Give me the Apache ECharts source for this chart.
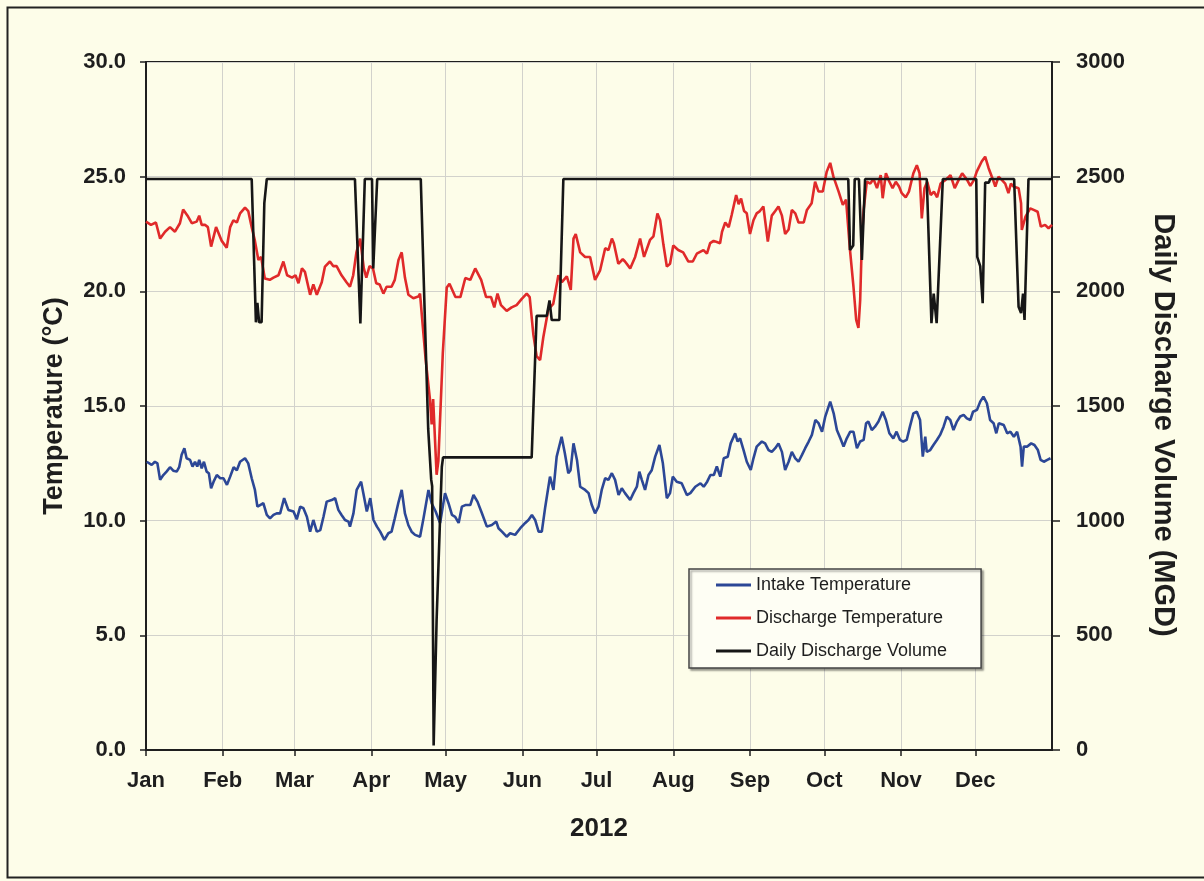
<!DOCTYPE html>
<html>
<head>
<meta charset="utf-8">
<script src="https://cdn.jsdelivr.net/npm/echarts@6/dist/echarts.min.js"></script>
<style>
html,body{margin:0;padding:0;background:#fdfde9;}
#chart{width:1204px;height:881px;}
</style>
</head>
<body>
<div id="chart"></div>
<script>
// Day offsets from 1 Jan 2012 and values
const monthLabels = ['Jan','Feb','Mar','Apr','May','Jun','Jul','Aug','Sep','Oct','Nov','Dec'];

const intakeDay = [0.3,2.3,3.6,4.6,5.7,7,8.3,9.7,11,12.4,13.4,14.4,15.5,16.4,17.8,18.8,19.8,20.7,21.5,22.5,23.4,24.5,25.4,26.3,27.3,28.6,30,31.3,32.7,34,35.4,36.7,38,40,41.3,42.7,44,45,46.1,47.4,48.8,50.1,51.5,52.8,54.2,55.8,57.5,59.6,60.9,62.3,63.6,65,66.3,67.6,69,70.4,71.7,73,75,76.4,77.7,79,80.4,81.8,82.4,83.8,85.1,86.9,87.8,89.2,90.6,91.9,93.3,94.6,96.3,97.9,99.2,100.5,101.9,103.3,104.6,106,107.3,108.7,110.7,112.1,114.1,115.4,117,118.8,120.8,122.2,123.6,124.9,126.3,127.6,129,131,132.3,133.9,135.7,137.7,139.7,141.5,142.4,143.8,145.7,147.1,149.1,151.2,153.2,154.5,155.9,157.2,158.6,159.9,161.3,163.2,164.6,165.9,167.9,169.2,170.6,171.5,172.7,174.1,175.4,177.4,178.8,180.1,181.4,182.8,184.1,185.5,186.8,188.2,189.5,190.9,192.2,193.5,195.6,196.9,198.3,199.3,200.3,201.6,203,204.3,205.7,207.4,208.8,210.4,211.7,212.8,214.4,216.4,218.5,219.9,221.9,224,225.3,226.7,228,229.4,230.6,232,233.4,235,236.2,238,239,240,241.4,242.7,244.3,245.4,246.7,248.8,250.1,251.5,252.8,254.2,255.5,256.9,258.2,259.6,260.9,262.3,263.6,265,266.3,267.7,269,270.4,271.7,273.1,274.4,276.4,277.8,279.1,280.5,281.8,283.1,284.5,285.8,287.2,288.5,289.9,290.9,291.8,293.2,294.5,295.9,297.6,298.9,300.3,301.9,303.2,304.6,305.9,307.3,308.6,310,311.4,312.7,313.8,314.8,315.4,316.8,318.1,319.5,320.8,322.2,323.5,324.9,326.2,327.6,328.9,330.3,331.6,333,334.1,335.7,337,338.3,339.7,341,342.4,343.5,344.5,346.5,347.9,349.2,350.6,351.9,353.3,353.9,354.6,356,357.6,358.9,360.3,361.4,362.7,364.1,365.4];
const intakeTemp = [12.57,12.43,12.57,12.5,11.78,11.99,12.14,12.33,12.18,12.14,12.33,12.87,13.16,12.72,12.65,12.36,12.57,12.36,12.65,12.28,12.57,12.14,12.07,11.41,11.7,11.99,11.85,11.85,11.56,11.92,12.33,12.2,12.57,12.72,12.5,11.85,11.34,10.61,10.68,10.76,10.25,10.1,10.25,10.32,10.32,10.98,10.47,10.4,10.06,10.61,10.54,10.17,9.52,10.03,9.52,9.59,10.17,10.83,10.9,10.98,10.47,10.25,10.03,9.96,9.74,10.32,11.34,11.7,11.2,10.4,10.98,10.03,9.74,9.52,9.16,9.45,9.52,10.1,10.76,11.34,10.32,9.8,9.52,9.38,9.3,10.1,11.34,10.76,10.4,9.9,11.2,10.76,10.25,10.17,9.9,10.61,10.68,10.68,11.12,10.83,10.32,9.74,9.81,9.96,9.67,9.52,9.3,9.45,9.38,9.67,9.9,10.03,10.25,10.03,9.52,9.52,10.61,11.92,11.34,12.79,13.66,12.94,12.07,12.2,13.37,12.65,11.48,11.34,11.2,10.68,10.32,10.61,11.34,11.85,11.78,12.07,11.78,11.12,11.41,11.2,10.9,11.2,11.48,12.14,11.78,11.34,11.99,12.2,12.79,13.3,12.5,10.98,11.2,11.92,11.7,11.63,11.12,11.2,11.48,11.63,11.48,11.7,11.99,11.99,12.36,11.92,12.72,12.79,13.37,13.81,13.45,13.59,13.08,12.57,12.21,12.72,13.23,13.45,13.37,13.08,13.0,13.16,13.37,13.0,12.21,12.57,13.0,12.72,12.57,12.87,13.16,13.45,13.74,14.39,14.25,13.88,14.54,15.19,14.68,13.95,13.59,13.23,13.59,13.88,13.88,13.16,13.45,13.52,14.25,14.32,13.95,14.1,14.32,14.75,14.39,13.81,13.59,13.88,13.52,13.45,13.52,14.1,14.68,14.75,14.39,12.79,13.66,13.0,13.08,13.3,13.52,13.74,14.1,14.54,14.39,13.95,14.32,14.54,14.61,14.46,14.39,14.75,14.83,15.19,15.41,15.12,14.39,14.25,13.81,14.25,14.17,13.81,13.88,13.66,13.88,13.23,12.36,13.23,13.23,13.37,13.3,13.08,12.65,12.57,12.65,12.72];

const dischargeDay = [0,2,4,5.7,7.7,9.7,11.7,13.7,15,17,18.5,20.5,21.5,22.5,23.8,25,26.3,28.3,30.6,32.6,34,35.3,36.7,38,40,41.3,42.7,44,45.4,46.5,48,50,51.5,53.5,55.5,57,59,60.4,61.6,63,64.2,66.3,67.6,69,71,72.3,74.3,75.6,77,79,81,82.4,83.7,85,86.5,88,89,90.3,91.7,93,94.4,95.9,97.2,99.2,100.5,102,103.3,104.6,106,108,110,110.7,111.4,113,114.7,115.4,116,117.4,118.1,119.9,121.5,122.6,125,127,129,131,133,135.4,137.4,139.4,140.7,142,143.4,145.7,147.7,149.7,151.8,153.8,155,156.5,157.8,159.2,160.5,162.5,164.5,166.6,168,170,171.6,172.7,173.6,175.4,177.4,179.4,181.4,183.4,185.5,186.8,188.2,189,190.8,192.6,193.5,195.6,197.6,199.6,201.2,203.6,205,206.6,207.7,209,210.4,211.7,213,215,217,219.1,220.9,222.5,225.2,226.6,227.9,229.3,230.6,231.9,232.7,234,235.4,236.6,238.4,239.4,240.4,241.6,242.7,244,245.4,246.7,248,249.4,251.2,252.8,254.2,255.5,256.9,258.2,259.6,260.9,262.3,263.6,265.7,267,268.9,270.3,271.7,273.4,275,276.4,277.7,279.8,281.5,282.8,284.4,285.8,286.9,287.8,288.5,289.2,289.9,291.2,292.6,293.9,295.3,296.8,297.6,298.9,300.2,301.6,302.9,304.2,305.3,306.9,308.2,310,311.4,312.5,313.4,314.5,315.6,317,318.3,319.6,321,323,325,326.7,328.3,329.7,331.7,333,334.5,335.6,337.6,339,340.4,341.7,343.1,344.4,345.7,347.1,348.4,349.4,350.4,352.5,353.5,353.8,355.3,357.2,358.6,360.2,361.5,363.2,364.6,366];
const dischargeTemp = [23.04,22.9,23.0,22.3,22.6,22.8,22.6,22.97,23.57,23.26,22.97,23.04,23.3,22.9,22.9,22.8,21.95,22.8,22.2,21.9,22.8,23.1,23.0,23.4,23.65,23.5,22.8,22.2,21.37,21.5,20.56,20.5,20.6,20.7,21.3,20.7,20.6,20.7,20.35,21.0,20.85,19.85,20.3,19.85,20.4,21.08,21.3,21.1,21.1,20.7,20.4,20.2,20.7,21.7,22.3,21.0,20.6,21.1,21.0,20.35,20.3,19.9,20.2,20.2,20.5,21.37,21.7,20.6,19.85,19.7,19.77,19.9,19.0,17.0,15.3,14.2,15.3,12.0,12.6,17.3,20.17,20.33,19.75,19.75,20.58,20.5,21.0,20.5,19.75,19.75,19.3,19.9,19.4,19.15,19.3,19.4,19.67,19.9,19.75,18.1,17.17,17.0,18.0,19.2,19.45,20.7,20.4,20.65,20.06,22.3,22.5,21.7,21.5,21.5,20.5,20.9,21.88,21.8,22.3,22.1,21.2,21.4,21.3,21.0,21.5,22.3,21.5,22.24,22.4,23.4,23.1,22.05,21.08,21.2,22.0,21.8,21.7,21.3,21.3,21.64,21.8,21.64,22.1,22.2,22.15,22.1,22.6,23.0,22.8,23.33,24.2,23.8,24.05,23.5,23.4,22.5,23.1,23.4,23.5,23.7,22.17,23.3,23.5,23.7,23.3,22.5,22.7,23.55,23.4,23.0,23.0,23.55,23.84,24.78,24.35,24.35,25.22,25.6,25.0,24.35,23.77,24.0,21.8,20.2,18.75,18.4,19.6,22.24,23.55,24.78,24.7,24.9,24.5,25.07,24.06,25.15,24.8,24.5,24.78,24.57,24.28,24.1,24.35,25.15,25.5,25.15,23.18,24.5,24.78,24.2,24.35,24.1,24.7,24.86,25.07,24.5,24.86,25.15,24.86,24.6,24.86,25.22,25.66,25.87,25.37,25.0,24.57,25.0,24.86,24.7,24.28,24.7,24.57,24.5,23.84,22.68,23.26,23.62,23.55,23.47,22.82,22.9,22.75,22.9];

const volumeDay = [0,42.7,44.4,45,45.7,46.7,47.8,48.8,84.4,86.6,88.4,91.3,91.8,92.6,93.4,111,112.7,114,115.2,115.6,116.2,117.4,119.5,120,155.8,157.8,161.9,163,163.9,167,168.6,283.7,284.4,285.7,286.3,288,289.2,290.5,315.4,317.3,318.2,319.4,321.9,335.4,335.8,337,338,339,340.5,341,350.7,352.5,353.5,354.3,354.9,356.5,366];
const volumeMGD = [2490,2490,1865,1950,1865,1865,2385,2490,2490,1860,2490,2490,2100,2100,2490,2490,1866,1400,1180,1150,20,568,1234,1276,1276,1893,1893,1960,1875,1875,2490,2490,2180,2200,2490,2490,2137,2490,2490,1861,1990,1861,2490,2490,2150,2110,1948,2474,2474,2490,2490,1933,1905,1990,1875,2490,2490];

const DAY = 86400000;
const t0 = new Date(2012, 0, 1).getTime();
const toPairs = (days, vals) => days.map((d, i) => [t0 + d * DAY, vals[i]]);

const FONT = "'Liberation Sans', Arial, sans-serif";
const INK = '#1e1e1e';
const GRID = '#d2d2cc';

const chart = echarts.init(document.getElementById('chart'));
chart.setOption({
  backgroundColor: '#fdfde9',
  animation: false,
  textStyle: { fontFamily: FONT },
  graphic: [{
    type: 'rect', silent: true,
    shape: { x: 7.5, y: 7.5, width: 1230, height: 870 },
    style: { fill: 'none', stroke: '#222', lineWidth: 2 }
  }, {
    type: 'text', silent: true, x: 1163, y: 425, rotation: -Math.PI / 2,
    style: {
      text: 'Daily Discharge Volume (MGD)', fill: INK,
      font: "bold 29px 'Liberation Sans', Arial, sans-serif",
      align: 'center', verticalAlign: 'middle'
    }
  }],
  grid: { left: 146, right: 152, top: 62, bottom: 131, show: true, borderColor: INK, borderWidth: 2, backgroundColor: 'transparent' },
  legend: {
    orient: 'vertical', left: 689, top: 569,
    padding: [7, 34, 8, 27], itemGap: 15, itemWidth: 35, itemHeight: 3, icon: 'rect',
    backgroundColor: '#fefef4', borderColor: '#444', borderWidth: 1.5,
    shadowColor: 'rgba(0,0,0,0.35)', shadowBlur: 2, shadowOffsetX: 2, shadowOffsetY: 2,
    textStyle: { fontSize: 18, color: INK, fontFamily: FONT, lineHeight: 18 },
    data: ['Intake Temperature', 'Discharge Temperature', 'Daily Discharge Volume']
  },
  xAxis: {
    type: 'time',
    min: t0, max: new Date(2013, 0, 1).getTime(),
    minInterval: 28 * DAY, maxInterval: 31 * DAY,
    name: '2012', nameLocation: 'middle', nameGap: 66,
    nameTextStyle: { fontSize: 26, fontWeight: 'bold', color: INK, fontFamily: FONT },
    axisLine: { lineStyle: { color: INK, width: 2 } },
    axisTick: { show: true, length: 6, lineStyle: { color: INK, width: 1.5 } },
    splitLine: { show: true, lineStyle: { color: GRID, width: 1 } },
    axisLabel: {
      fontSize: 22, fontWeight: 'bold', color: INK, margin: 20, fontFamily: FONT,
      hideOverlap: false,
      formatter: function (v) {
        const d = new Date(v);
        if (d.getFullYear() !== 2012) return '';
        return monthLabels[d.getMonth()];
      }
    }
  },
  yAxis: [{
    type: 'value', min: 0, max: 30, interval: 5, position: 'left',
    name: 'Temperature (°C)', nameLocation: 'middle', nameGap: 78,
    nameTextStyle: { fontSize: 27, fontWeight: 'bold', color: INK, fontFamily: FONT },
    axisLine: { show: true, lineStyle: { color: INK, width: 2 } },
    axisTick: { show: true, length: 6, lineStyle: { color: INK, width: 1.5 } },
    splitLine: { show: true, lineStyle: { color: GRID, width: 1 } },
    axisLabel: { fontSize: 22, fontWeight: 'bold', color: INK, margin: 20, fontFamily: FONT, formatter: v => v.toFixed(1) }
  }, {
    type: 'value', min: 0, max: 3000, interval: 500, position: 'right',
    axisLine: { show: true, lineStyle: { color: INK, width: 2 } },
    axisTick: { show: true, length: 8, lineStyle: { color: INK, width: 1.5 } },
    splitLine: { show: false },
    axisLabel: { fontSize: 22, fontWeight: 'bold', color: INK, margin: 24, fontFamily: FONT, formatter: v => String(v) }
  }],
  series: [{
    name: 'Intake Temperature', type: 'line', yAxisIndex: 0, symbol: 'none',
    lineStyle: { color: '#2c4796', width: 2.6 }, itemStyle: { color: '#2c4796' },
    data: toPairs(intakeDay, intakeTemp)
  }, {
    name: 'Discharge Temperature', type: 'line', yAxisIndex: 0, symbol: 'none',
    lineStyle: { color: '#e02a2a', width: 2.6 }, itemStyle: { color: '#e02a2a' },
    data: toPairs(dischargeDay, dischargeTemp)
  }, {
    name: 'Daily Discharge Volume', type: 'line', yAxisIndex: 1, symbol: 'none',
    lineStyle: { color: '#161616', width: 2.6 }, itemStyle: { color: '#161616' },
    data: toPairs(volumeDay, volumeMGD)
  }]
});
</script>
</body>
</html>
